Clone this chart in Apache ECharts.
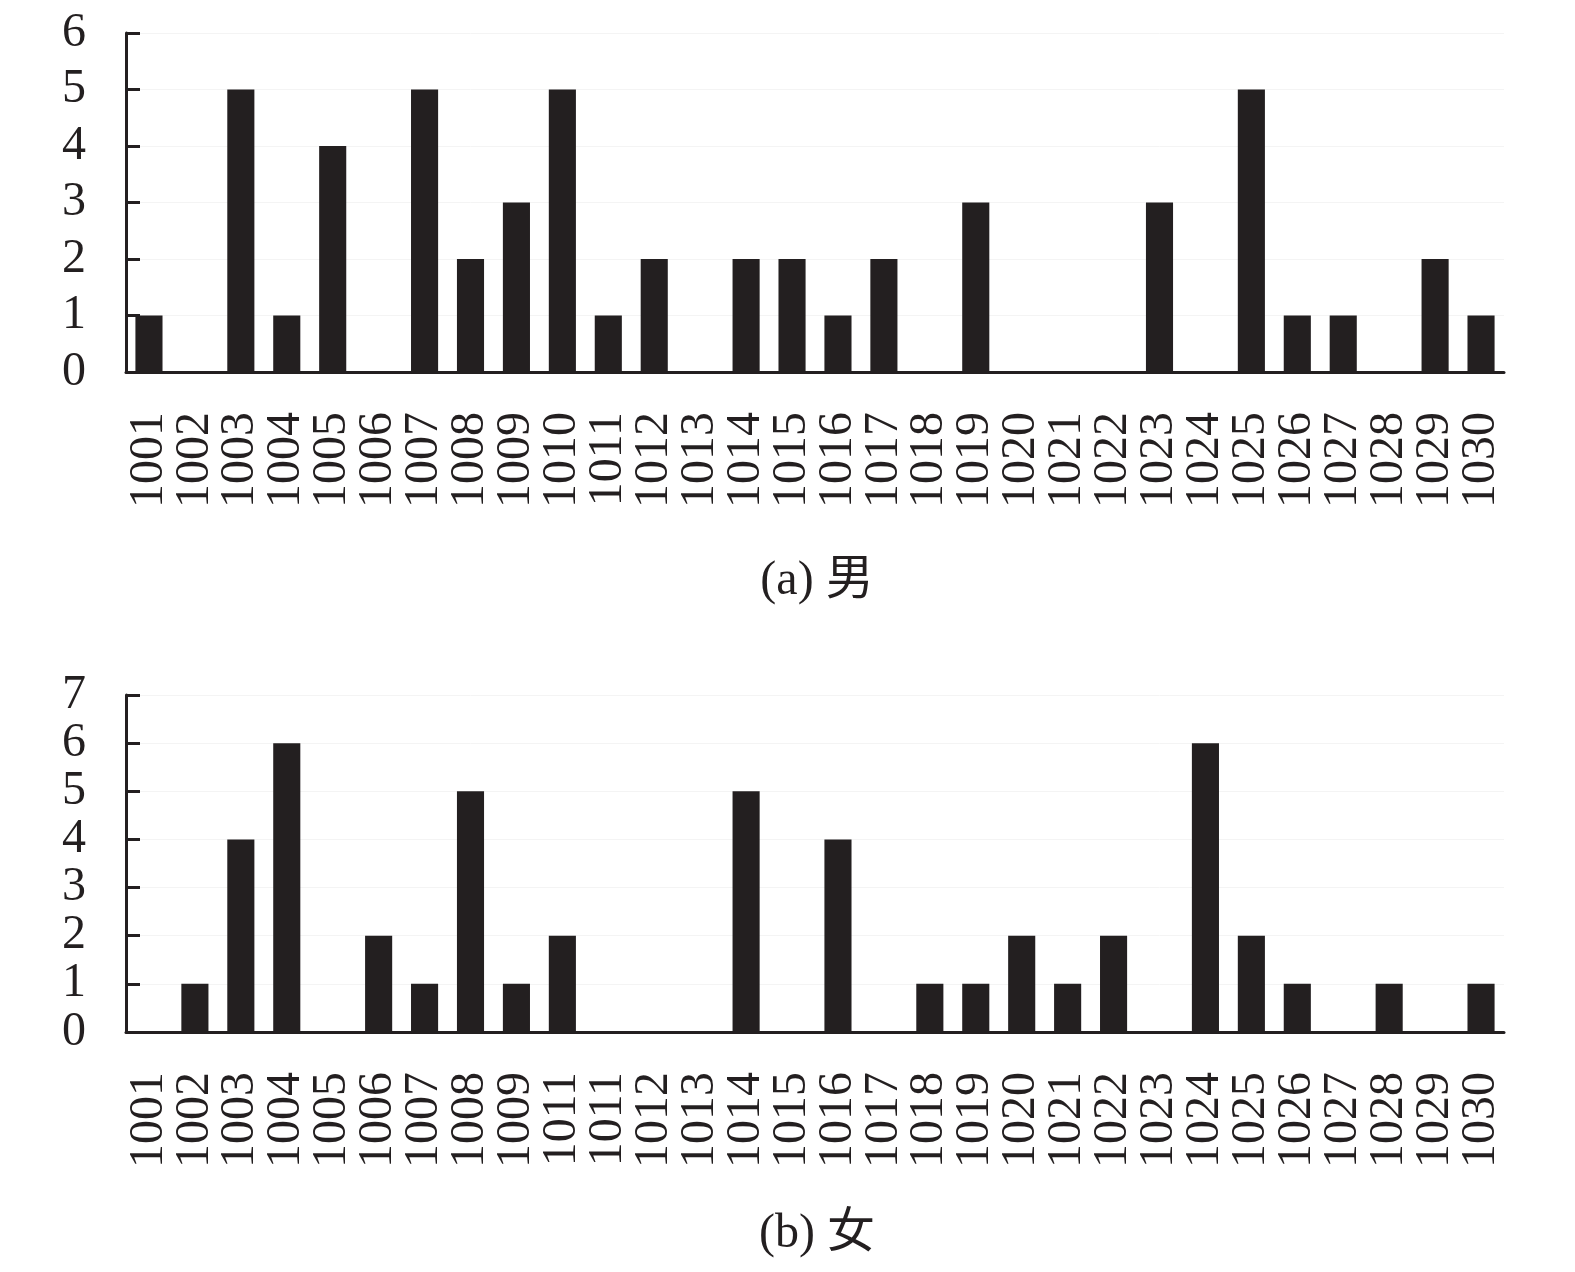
<!DOCTYPE html>
<html>
<head>
<meta charset="utf-8">
<title>男女分布</title>
<script src="https://cdn.jsdelivr.net/npm/echarts@6/dist/echarts.min.js"></script>
<style>
  html, body { margin: 0; padding: 0; background: #fff; }
  #main { width: 1575px; height: 1272px; }
</style>
</head>
<body>
<div id="main"></div>
<script>
// 上图（男）横轴编号
const catsMale = ['1001', '1002', '1003', '1004', '1005', '1006', '1007', '1008', '1009', '1010',
  '1011', '1012', '1013', '1014', '1015', '1016', '1017', '1018', '1019', '1020',
  '1021', '1022', '1023', '1024', '1025', '1026', '1027', '1028', '1029', '1030']
// 下图（女）横轴编号，原图中 1011 出现两次
const catsFemale = ['1001', '1002', '1003', '1004', '1005', '1006', '1007', '1008', '1009', '1011',
  '1011', '1012', '1013', '1014', '1015', '1016', '1017', '1018', '1019', '1020',
  '1021', '1022', '1023', '1024', '1025', '1026', '1027', '1028', '1029', '1030']

const maleValues = [1, 0, 5, 1, 4, 0, 5, 2, 3, 5, 1, 2, 0, 2, 2, 1, 2, 0, 3, 0, 0, 0, 3, 0, 5, 1, 1, 0, 2, 1]
const femaleValues = [0, 1, 4, 6, 0, 2, 1, 5, 1, 2, 0, 0, 0, 5, 0, 4, 0, 1, 1, 2, 1, 2, 0, 6, 2, 1, 0, 1, 0, 1]

const captions = ['(a) 男', '(b) 女']

const ink = '#231f20'
const font = '"Liberation Serif", "Times New Roman", "Noto Sans CJK SC", serif'

function xAxisOf (gridIndex, cats) {
  return {
    type: 'category',
    gridIndex: gridIndex,
    data: cats,
    boundaryGap: true,
    axisLine: { lineStyle: { color: ink, width: 3 } },
    axisTick: { show: false },
    axisLabel: {
      interval: 0,
      rotate: 90,
      margin: 40,
      color: ink,
      fontSize: 48,
      fontFamily: font
    }
  }
}

function yAxisOf (gridIndex, max) {
  return {
    type: 'value',
    gridIndex: gridIndex,
    min: 0,
    max: max,
    interval: 1,
    axisLine: { show: true, lineStyle: { color: ink, width: 3 } },
    axisTick: { show: true, inside: true, length: 14, lineStyle: { color: ink, width: 3 } },
    axisLabel: {
      margin: 40,
      color: ink,
      fontSize: 48,
      fontFamily: font
    },
    splitLine: { show: true, lineStyle: { color: '#f4f4f4', width: 1 } }
  }
}

const chart = echarts.init(document.getElementById('main'))

const option = {
  animation: false,
  backgroundColor: '#fff',
  title: [
    {
      text: captions[0],
      left: 812,
      top: 552,
      textAlign: 'center',
      textStyle: { color: ink, fontSize: 48, fontWeight: 'normal', fontFamily: font }
    },
    {
      text: captions[1],
      left: 812,
      top: 1205,
      textAlign: 'center',
      textStyle: { color: ink, fontSize: 48, fontWeight: 'normal', fontFamily: font }
    }
  ],
  grid: [
    { left: 126, right: 71, top: 33, height: 339 },
    { left: 126, right: 71, top: 695, height: 337 }
  ],
  xAxis: [xAxisOf(0, catsMale), xAxisOf(1, catsFemale)],
  yAxis: [yAxisOf(0, 6), yAxisOf(1, 7)],
  series: [
    {
      type: 'bar',
      xAxisIndex: 0,
      yAxisIndex: 0,
      data: maleValues,
      barWidth: '59%',
      itemStyle: { color: ink }
    },
    {
      type: 'bar',
      xAxisIndex: 1,
      yAxisIndex: 1,
      data: femaleValues,
      barWidth: '59%',
      itemStyle: { color: ink }
    }
  ]
}

chart.setOption(option)
</script>
</body>
</html>
